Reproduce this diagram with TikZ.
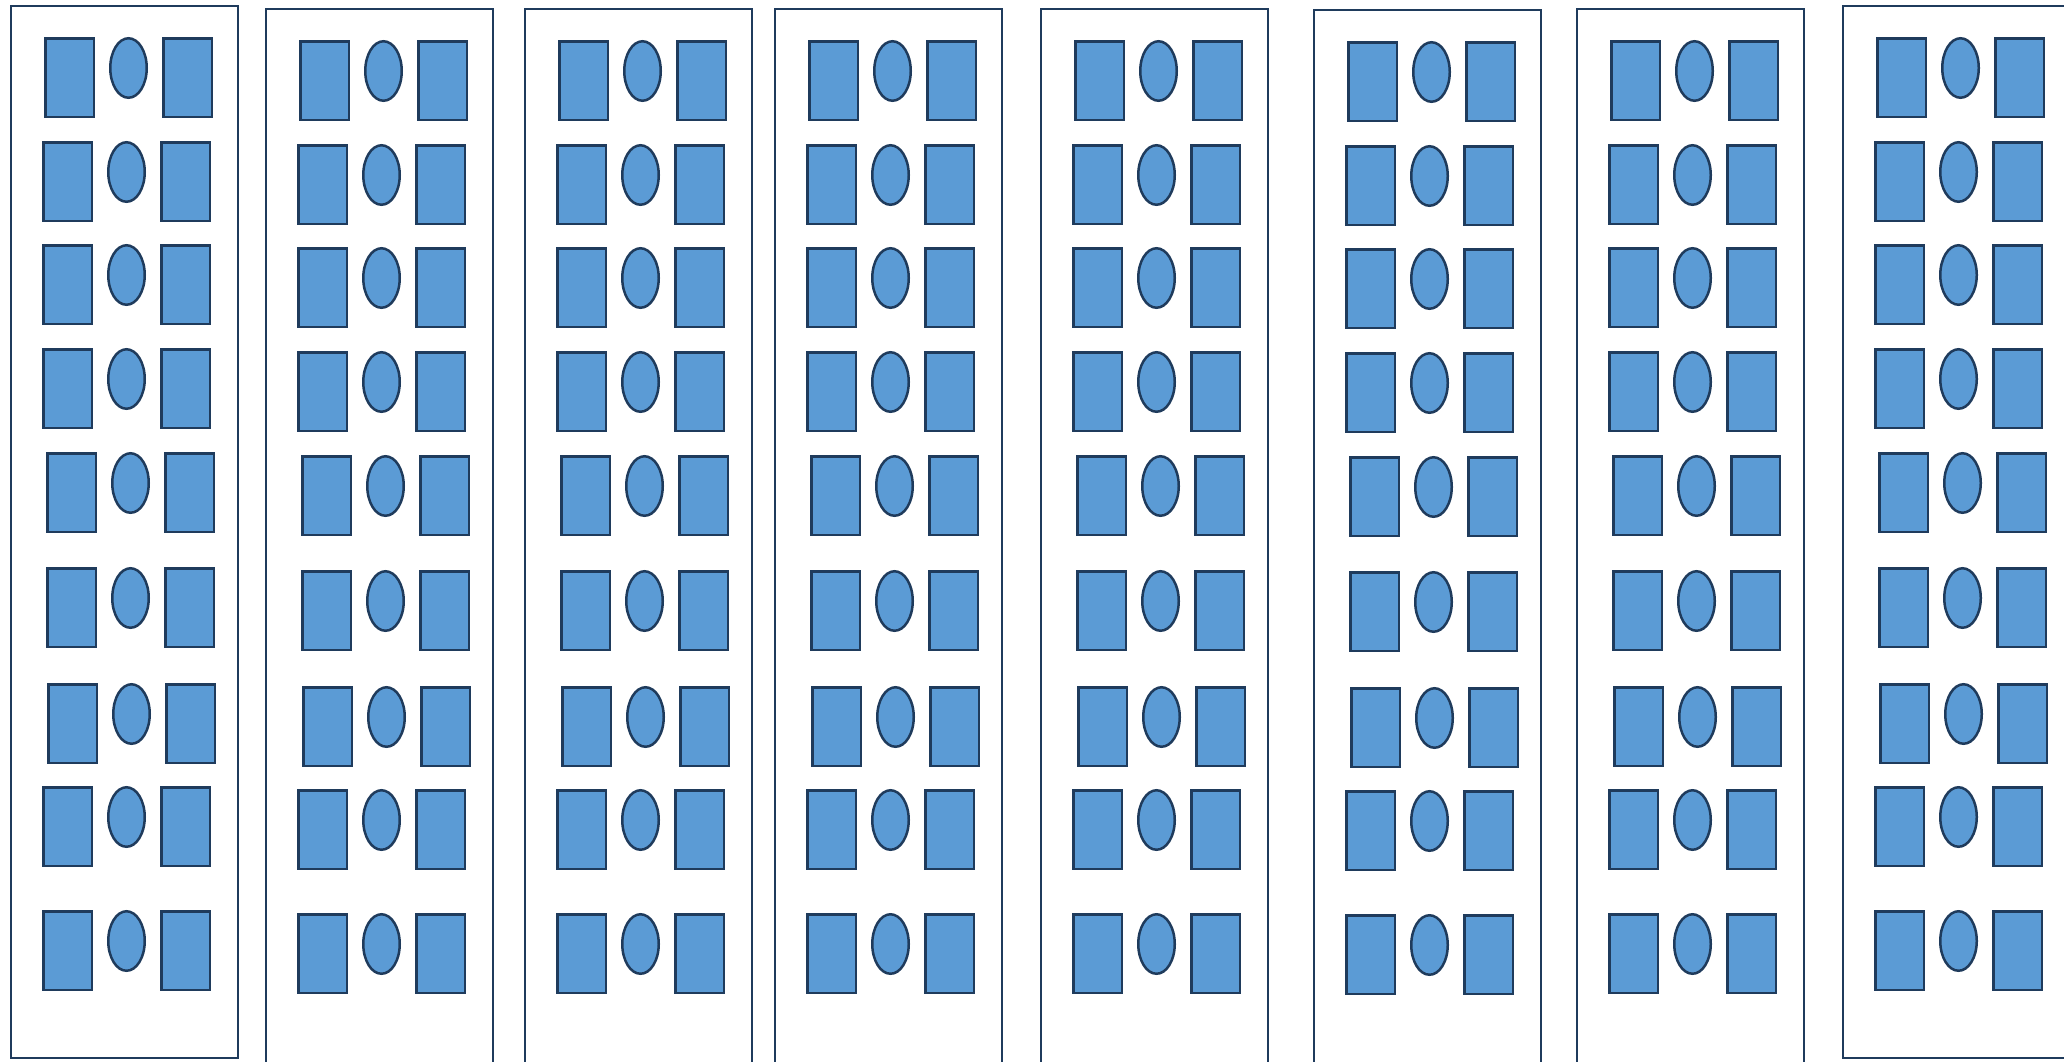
\documentclass[tikz,border=0pt]{standalone}
\usetikzlibrary{shapes.geometric}
\definecolor{fillb}{HTML}{5B9BD5}
\definecolor{edgec}{HTML}{1F3B5C}
\begin{document}
\begin{tikzpicture}[x=1pt,y=-1pt,
  win/.style={draw=edgec, fill=fillb, line width=2.5pt, rectangle, minimum width=48.5pt, minimum height=78.5pt, inner sep=0pt, outer sep=0pt, anchor=north west},
  lamp/.style={draw=edgec, fill=fillb, line width=2.5pt, ellipse, minimum width=36.5pt, minimum height=59.5pt, inner sep=0pt, outer sep=0pt, anchor=north},
  panel/.style={draw=edgec, line width=2.4pt}]
\clip (0,0) rectangle (2064,1061);
\fill[white] (0,0) rectangle (2064,1061);
% panel frames
\foreach \p/\L/\T/\B in {1/10/5/1057.8, 2/265/8/1100, 3/524/8/1100, 4/774/8/1100, 5/1040/8/1100, 6/1313/9/1100, 7/1576/8/1100, 8/1842/5/1057.8} {
  \draw[panel] (\L+1.2,\T+1.2) rectangle (\L+227.8,\B);
}
% windows
\foreach \p/\L/\T in {1/10/5, 2/265/8, 3/524/8, 4/774/8, 5/1040/8, 6/1313/9, 7/1576/8, 8/1842/5} {
  \foreach \r/\dy/\dx in {1/32/2, 2/136/0, 3/239/0, 4/343/0, 5/447/4, 6/562/4, 7/678/5, 8/781/0, 9/905/0} {
    \node[win] (a\p-\r) at (\L+\dx+33.25, \T+\dy+1.25) {};
    \node[lamp] (e\p-\r) at (\L+\dx+116.5, \T+\dy+1.25) {};
    \node[win] (b\p-\r) at (\L+\dx+151.25, \T+\dy+1.25) {};
  }
}
\end{tikzpicture}
\end{document}
